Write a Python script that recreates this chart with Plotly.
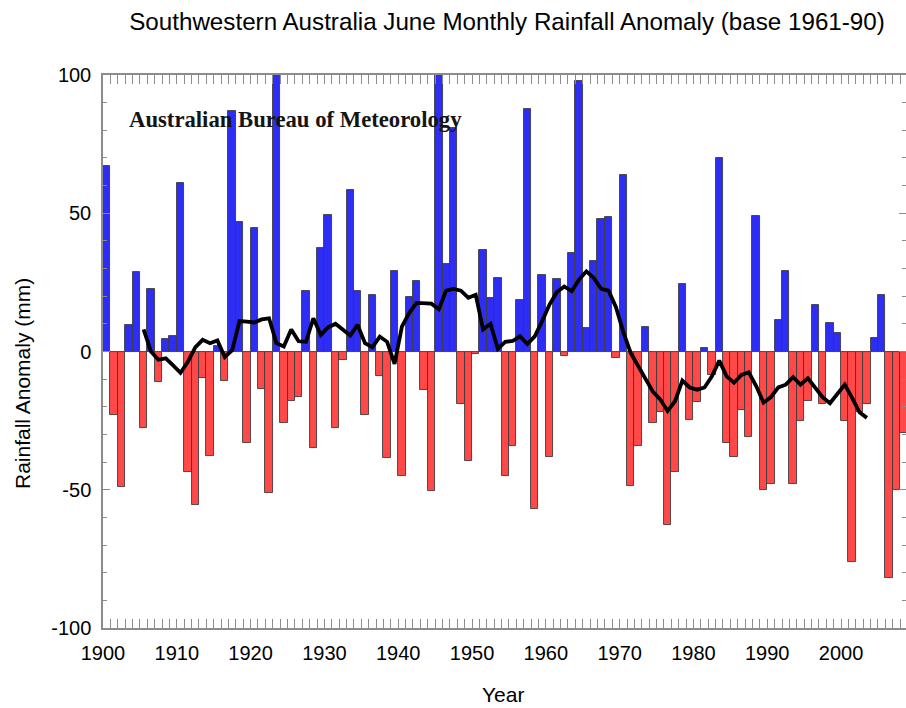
import plotly.graph_objects as go

years = list(range(1900, 2009))
anomaly = [
    67, -23, -49, 9.5, 28.7, -27.7, 22.5, -11, 4.6, 5.5,          # 1900-1909
    61, -43.7, -55.4, -9.5, -37.9, 2, -10.5, 87, 46.8, -33,       # 1910-1919
    44.7, -13.4, -51, 101, -26, -18, -16.4, 22, -35, 37.4,        # 1920-1929
    49.3, -27.6, -3, 58.4, 22, -23, 20.3, -9, -38.5, 29,          # 1930-1939
    -45, 19.7, 25.5, -14, -50.6, 105, 31.5, 81, -19, -39.5,       # 1940-1949
    -1, 36.7, 19.5, 26.7, -45, -34, 18.8, 87.7, -57, 27.5,        # 1950-1959
    -38, 26.4, -1.7, 35.8, 98, 8.6, 32.7, 47.8, 48.8, -2.5,       # 1960-1969
    63.8, -48.8, -34.3, 9, -26, -22, -62.7, -43.6, 24.3, -24.8,   # 1970-1979
    -18.2, 1.3, -8.6, 70, -33, -38, -21, -31, 49, -50,            # 1980-1989
    -48, 11.3, 29, -48, -25, -18, 16.7, -19, 10.4, 6.8,           # 1990-1999
    -25, -76, -22, -19, 5, 20.5, -82, -50, -29.5                  # 2000-2008
]

smooth_years = list(range(1905, 2004))
smooth = [
    8, 0, -3, -2.5, -5, -7.7, -3.7, 1.5, 4.2, 3,                  # 1905-1914
    4, -2, 0.5, 11, 10.8, 10.5, 11.6, 12, 3, 1.8,                 # 1915-1924
    8, 3.7, 3.5, 12, 6, 8.7, 10, 8, 5.8, 9.6,                     # 1925-1934
    3, 1.5, 5.4, 3.5, -4.5, 9, 14, 17.6, 17.6, 17.3,              # 1935-1944
    15.3, 22, 22.6, 22, 19.4, 20.5, 8, 10, 1, 3.5,                # 1945-1954
    3.8, 5.5, 2.7, 5.5, 11, 17, 21.5, 23.5, 21.8, 26,             # 1955-1964
    29, 26.6, 22.7, 22, 16, 7, -0.5, -5, -10, -14.5,              # 1965-1974
    -17.3, -21.5, -18, -10.5, -13, -13.8, -13, -9, -3.3, -9,      # 1975-1984
    -11.3, -8.5, -7.5, -12.5, -18.5, -16.5, -13, -12, -9.3, -12,  # 1985-1994
    -9.7, -13, -16.5, -18.7, -15.5, -12, -16.8, -22, -24          # 1995-2003
]

y_tickvals = [-100, -50, 0, 50, 100]
y_ticktext = ["-100", "-50", "0", "50", "100"]
x_tickvals = list(range(1900, 2001, 10))
x_ticktext = [str(v) for v in x_tickvals]

title_text = "Southwestern Australia June Monthly Rainfall Anomaly (base 1961-90)"
y_title = "Rainfall Anomaly (mm)"
x_title = "Year"
credit = "Australian Bureau of Meteorology"

BLUE = "rgb(45,45,245)"
RED = "rgb(255,72,72)"
GRAY = "rgb(140,140,140)"
colors = [BLUE if v >= 0 else RED for v in anomaly]

W, H = 906, 708
L, T, B = 103, 75, 80
PW, PH = W - L, H - T - B

fig = go.Figure()
fig.add_trace(go.Bar(
    x=years, y=anomaly, width=1, offset=0,
    marker=dict(color=colors, line=dict(color="rgb(60,60,60)", width=0.9)),
    showlegend=False, hoverinfo="x+y",
))
fig.add_trace(go.Scatter(
    x=[y + 0.5 for y in smooth_years], y=smooth, mode="lines",
    line=dict(color="black", width=3.8), showlegend=False,
))

sans = "Liberation Sans, Arial"
fig.add_annotation(
    text="<b>" + credit + "</b>", xref="paper", yref="paper",
    x=(127 - L) / PW, y=(H - B - 120) / PH,
    xanchor="left", yanchor="middle", showarrow=False,
    font=dict(family="Liberation Serif", size=22.7, color="rgb(20,20,20)"),
)
fig.add_annotation(
    text=y_title, xref="paper", yref="paper", x=(22 - L) / PW, y=(H - B - 384) / PH,
    xanchor="center", yanchor="middle", showarrow=False, textangle=-90,
    font=dict(family=sans, size=21, color="black"),
)
fig.add_annotation(
    text=x_title, xref="paper", yref="paper", x=(503 - L) / PW, y=-(695 - (H - B)) / PH,
    xanchor="center", yanchor="middle", showarrow=False,
    font=dict(family=sans, size=21, color="black"),
)

axis_font = dict(family=sans, size=20, color="black")

fig.update_layout(
    width=W, height=H,
    margin=dict(l=L, r=0, t=T, b=B),
    paper_bgcolor="white", plot_bgcolor="white",
    bargap=0,
    title=dict(text=title_text, x=507 / W, xanchor="center", y=1 - 22 / H, yanchor="middle",
               font=dict(family=sans, size=24.2, color="black")),
    font=axis_font,
)
fig.update_xaxes(
    range=[1900, 2008.8], tickmode="array", tickvals=x_tickvals, ticktext=x_ticktext,
    ticks="inside", ticklen=9, tickcolor=GRAY, tickwidth=1,
    minor=dict(dtick=1, tick0=1900, ticks="inside", ticklen=9, tickcolor=GRAY),
    showline=True, linecolor=GRAY, linewidth=1.5, mirror="allticks",
    showgrid=False, zeroline=False, tickfont=axis_font, ticklabelstandoff=6,
    automargin=False,
)
fig.update_yaxes(
    range=[-100, 100], tickmode="array", tickvals=y_tickvals, ticktext=y_ticktext,
    ticks="inside", ticklen=7, tickcolor=GRAY, tickwidth=1,
    minor=dict(tickvals=list(range(-90, 100, 10)), ticks="inside", ticklen=4, tickcolor=GRAY),
    showline=True, linecolor=GRAY, linewidth=1.5, mirror="allticks",
    showgrid=False, zeroline=False, tickfont=axis_font, ticklabelstandoff=6,
    automargin=False,
)

fig.write_html(
    "out.html",
    config={"displayModeBar": False},
    post_script="document.body.style.margin='0';document.body.style.overflow='hidden';",
)
